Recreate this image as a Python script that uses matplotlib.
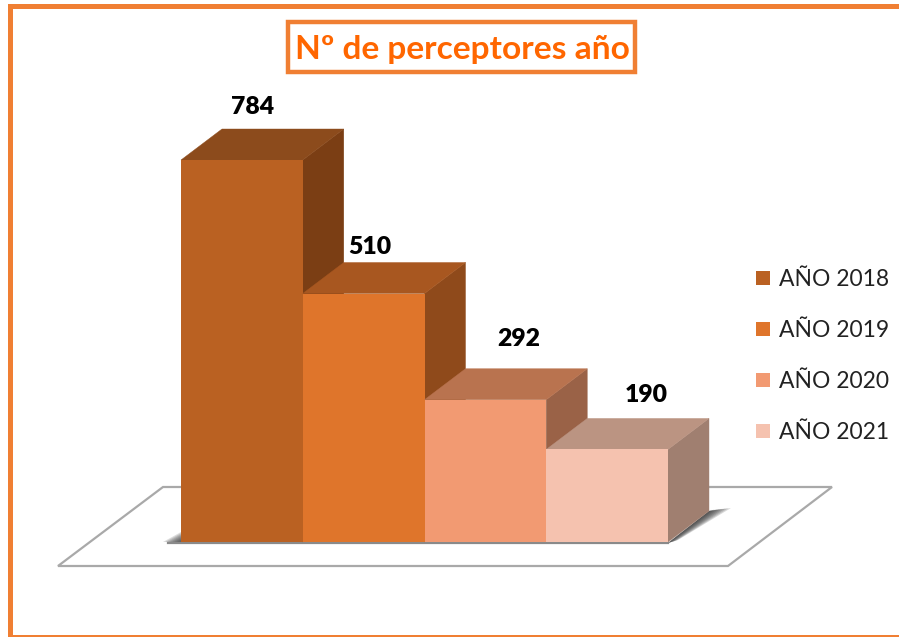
import matplotlib
matplotlib.use('Agg')
import matplotlib.pyplot as plt
from matplotlib.patches import Polygon, Rectangle

plt.rcParams['font.family'] = ['Lato', 'DejaVu Sans']

years = ['AÑO 2018', 'AÑO 2019', 'AÑO 2020', 'AÑO 2021']
values = [784, 510, 292, 190]
title = 'Nº de perceptores año'

front_colors = ['#BA6122', '#DF752B', '#F29A72', '#F5C2AF']
top_colors = ['#8C4B1C', '#A85720', '#B9734F', '#BB9482']
side_colors = ['#7B3E14', '#8F4A1B', '#9A6247', '#A07F70']

orange = '#F07F33'
W, H = 899, 637

# pixel layout of the bars
bar_left = 181
bar_px = 121.75
base_px = 542
px_per_unit = 382 / 784
depth_x = 41 / bar_px
depth_y = 31 / px_per_unit
# label shift from bar centre / above bar top, in pixels
label_dx = [11, 6, 33, 39]
label_dy = [53, 47, 61, 54]

fig = plt.figure(figsize=(W / 100, H / 100), dpi=100, facecolor='white')

# background layer in pixel coords: frame, floor, title box
bg = fig.add_axes([0, 0, 1, 1])
bg.set_xlim(0, W)
bg.set_ylim(H, 0)
bg.axis('off')
bg.add_patch(Rectangle((8, 4), 4.5, 632, color=orange, lw=0))
bg.add_patch(Rectangle((8, 4), W - 8, 4.5, color=orange, lw=0))
bg.add_patch(Rectangle((8, 635), W - 8, 1.5, color=orange, lw=0))
bg.add_patch(Polygon([(58, 566), (163, 487), (832, 487), (728, 566)], closed=True,
                     facecolor='white', edgecolor='#A9A9A9', lw=1.6))
bg.plot([168, 668], [543, 543], color='#8A8A8A', lw=1.6)
# soft shadows at the foot of the bars
for k in range(8):
    f = 1 - k / 8
    bg.add_patch(Polygon([(668, 543), (709, 511), (709 + 22 * f, 510 - 2 * f), (668 + 10 * f, 543 - 3 * f)],
                         closed=True, color='#222222', alpha=0.17, lw=0))
    bg.add_patch(Polygon([(181 - 18 * f, 542), (181, 542 - 10 * f), (181, 542)], closed=True,
                         color='#333333', alpha=0.17, lw=0))
bg.add_patch(Rectangle((287.5, 21.5), 347, 50, facecolor='white', edgecolor=orange, lw=3.2))
bg.text(462, 50, title, color='#FF6600', fontsize=24.1, fontweight='bold', ha='center', va='center')

# chart layer, value scale matches the pixel layout above
ax = fig.add_axes([0, 0, 1, 1])
ax.patch.set_alpha(0)
ax.set_xlim(-bar_left / bar_px, (W - bar_left) / bar_px)
ax.set_ylim((base_px - H) / px_per_unit, base_px / px_per_unit)
ax.axis('off')

handles = []
for i, v in enumerate(values):
    z = 3 + i * 2
    side = Polygon([(i + 1, 0), (i + 1 + depth_x, depth_y), (i + 1 + depth_x, v + depth_y), (i + 1, v)],
                   closed=True, facecolor=side_colors[i], edgecolor=side_colors[i], lw=0.3, zorder=z)
    top = Polygon([(i, v), (i + depth_x, v + depth_y), (i + 1 + depth_x, v + depth_y), (i + 1, v)],
                  closed=True, facecolor=top_colors[i], edgecolor=top_colors[i], lw=0.3, zorder=z)
    ax.add_patch(side)
    ax.add_patch(top)
    bars = ax.bar(i, v, width=1, align='edge', color=front_colors[i], label=years[i], zorder=z + 1)
    handles.append(bars)
    ax.text(i + 0.5 + label_dx[i] / bar_px, v + label_dy[i] / px_per_unit, str(v), color='black',
            fontsize=17.8, fontweight='heavy', ha='center', va='center', zorder=20)

leg = ax.legend(handles=handles, loc='upper left', bbox_to_anchor=(756 / W, 1 - 269 / H),
                frameon=False, fontsize=16.5, handlelength=0.62, handleheight=0.62,
                handletextpad=0.4, labelspacing=1.31, borderpad=0, borderaxespad=0)
for t in leg.get_texts():
    t.set_color('#222222')

fig.savefig('out.png', dpi=100)
